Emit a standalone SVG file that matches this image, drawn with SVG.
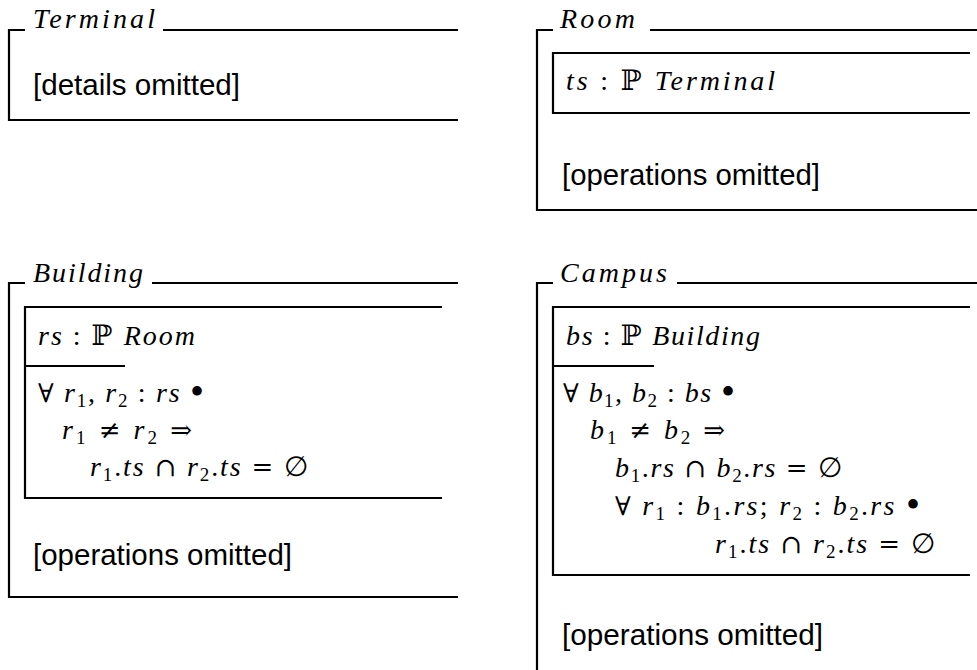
<svg xmlns="http://www.w3.org/2000/svg" width="977" height="670" viewBox="0 0 977 670">
<style>
.ln{fill:none;stroke:#000;stroke-width:2.2}
.t{font-family:"Liberation Serif","DejaVu Serif",serif;font-style:italic;font-size:28px;fill:#000}
.m{font-family:"Liberation Serif","DejaVu Serif",serif;font-size:28px;fill:#000}
.i{font-style:italic}
.s{font-size:19px}
.b{font-size:40px}
.o{font-family:"DejaVu Serif",serif;font-size:26px}
.sf{font-family:"Liberation Sans","DejaVu Sans",sans-serif;font-size:29px;fill:#000}
</style>
<rect width="977" height="670" fill="#fff"/>
<g id="terminal">
<path class="ln" d="M9,30H25M163,30H458M9,29V121M8,120H458"/>
<text class="t" x="33" y="28" textLength="122" lengthAdjust="spacing">Terminal</text>
<text class="sf" x="33" y="95" textLength="207" lengthAdjust="spacingAndGlyphs">[details omitted]</text>
</g>
<g id="room">
<path class="ln" d="M537,30H553M650,30H977M537,29V211M536,210H977"/>
<text class="t" x="560" y="28" textLength="75" lengthAdjust="spacing">Room</text>
<path class="ln" d="M552,53H970M553,52V114M552,113H970"/>
<text class="m" x="566" y="90" textLength="209" lengthAdjust="spacing"><tspan class="i">ts</tspan> : ℙ <tspan class="i">Terminal</tspan></text>
<text class="sf" x="562" y="185" textLength="258" lengthAdjust="spacingAndGlyphs">[operations omitted]</text>
</g>
<g id="building">
<path class="ln" d="M9,283H25M152,283H458M9,282V598M8,597H458"/>
<text class="t" x="33" y="282" textLength="110" lengthAdjust="spacing">Building</text>
<path class="ln" d="M24,307H442M25,306V499M24,498H442M25,366H125"/>
<text class="m" x="38" y="345" textLength="157" lengthAdjust="spacing"><tspan class="i">rs</tspan> : ℙ <tspan class="i">Room</tspan></text>
<text class="m" x="38" y="402" textLength="166" lengthAdjust="spacing"><tspan class="o">∀</tspan> <tspan class="i">r</tspan><tspan class="s" dy="5">1</tspan><tspan dy="-5">, </tspan><tspan class="i">r</tspan><tspan class="s" dy="5">2</tspan><tspan dy="-5"> : </tspan><tspan class="i">rs</tspan> <tspan class="b" dy="3">•</tspan></text>
<text class="m" x="62" y="439" textLength="130" lengthAdjust="spacing"><tspan class="i">r</tspan><tspan class="s" dy="5">1</tspan><tspan dy="-5"> </tspan><tspan class="o">≠</tspan> <tspan class="i">r</tspan><tspan class="s" dy="5">2</tspan><tspan dy="-5"> </tspan><tspan class="o">⇒</tspan></text>
<text class="m" x="90" y="476" textLength="218" lengthAdjust="spacing"><tspan class="i">r</tspan><tspan class="s" dy="5">1</tspan><tspan dy="-5">.</tspan><tspan class="i">ts</tspan> <tspan class="o">∩</tspan> <tspan class="i">r</tspan><tspan class="s" dy="5">2</tspan><tspan dy="-5">.</tspan><tspan class="i">ts</tspan> <tspan class="o">=</tspan> ∅</text>
<text class="sf" x="33" y="565" textLength="259" lengthAdjust="spacingAndGlyphs">[operations omitted]</text>
</g>
<g id="campus">
<path class="ln" d="M537,283H553M677,283H977M537,282V670"/>
<text class="t" x="560" y="282" textLength="107" lengthAdjust="spacing">Campus</text>
<path class="ln" d="M552,307H970M553,306V576M552,575H970M553,366H654"/>
<text class="m" x="566" y="345" textLength="194" lengthAdjust="spacing"><tspan class="i">bs</tspan> : ℙ <tspan class="i">Building</tspan></text>
<text class="m" x="563" y="402" textLength="172" lengthAdjust="spacing"><tspan class="o">∀</tspan> <tspan class="i">b</tspan><tspan class="s" dy="5">1</tspan><tspan dy="-5">, </tspan><tspan class="i">b</tspan><tspan class="s" dy="5">2</tspan><tspan dy="-5"> : </tspan><tspan class="i">bs</tspan> <tspan class="b" dy="3">•</tspan></text>
<text class="m" x="590" y="439" textLength="135" lengthAdjust="spacing"><tspan class="i">b</tspan><tspan class="s" dy="5">1</tspan><tspan dy="-5"> </tspan><tspan class="o">≠</tspan> <tspan class="i">b</tspan><tspan class="s" dy="5">2</tspan><tspan dy="-5"> </tspan><tspan class="o">⇒</tspan></text>
<text class="m" x="615" y="477" textLength="227" lengthAdjust="spacing"><tspan class="i">b</tspan><tspan class="s" dy="5">1</tspan><tspan dy="-5">.</tspan><tspan class="i">rs</tspan> <tspan class="o">∩</tspan> <tspan class="i">b</tspan><tspan class="s" dy="5">2</tspan><tspan dy="-5">.</tspan><tspan class="i">rs</tspan> <tspan class="o">=</tspan> ∅</text>
<text class="m" x="615" y="515" textLength="305" lengthAdjust="spacing"><tspan class="o">∀</tspan> <tspan class="i">r</tspan><tspan class="s" dy="5">1</tspan><tspan dy="-5"> : </tspan><tspan class="i">b</tspan><tspan class="s" dy="5">1</tspan><tspan dy="-5">.</tspan><tspan class="i">rs</tspan>; <tspan class="i">r</tspan><tspan class="s" dy="5">2</tspan><tspan dy="-5"> : </tspan><tspan class="i">b</tspan><tspan class="s" dy="5">2</tspan><tspan dy="-5">.</tspan><tspan class="i">rs</tspan> <tspan class="b" dy="3">•</tspan></text>
<text class="m" x="715" y="553" textLength="220" lengthAdjust="spacing"><tspan class="i">r</tspan><tspan class="s" dy="5">1</tspan><tspan dy="-5">.</tspan><tspan class="i">ts</tspan> <tspan class="o">∩</tspan> <tspan class="i">r</tspan><tspan class="s" dy="5">2</tspan><tspan dy="-5">.</tspan><tspan class="i">ts</tspan> <tspan class="o">=</tspan> ∅</text>
<text class="sf" x="562" y="645" textLength="261" lengthAdjust="spacingAndGlyphs">[operations omitted]</text>
</g>
</svg>
